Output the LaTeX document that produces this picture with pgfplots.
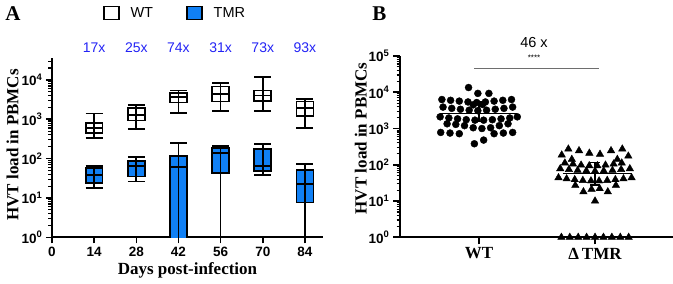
\documentclass[border=0pt]{standalone}
\usepackage{fontspec}
\setmainfont{Liberation Serif}
\newfontfamily\arial{Liberation Sans}
\usepackage{pgfplots}
\pgfplotsset{compat=1.18}

\definecolor{tmrblue}{RGB}{16,128,245}
\definecolor{foldblue}{RGB}{35,35,245}
\definecolor{sigline}{RGB}{110,110,110}

\pgfplotsset{
  loadaxis/.style={
    scale only axis,
    axis x line*=bottom, axis y line*=left,
    axis line style={line width=2.2pt,-},
    tick align=outside,
    major tick length=6pt, minor tick length=3.5pt,
    every major tick/.append style={black,line width=1.6pt},
    every minor tick/.append style={black,line width=1.1pt},
    yticklabel style={font=\arial\bfseries\fontsize{13.5}{15}\selectfont},
    xticklabel style={font=\arial\bfseries\fontsize{13.5}{15}\selectfont},
    label style={font=\bfseries\fontsize{17}{19}\selectfont},
  },
}

% one box: centre, left, right, lower whisker, lower quartile, median,
% upper quartile, upper whisker, fill colour
\newcommand{\boxset}[9]{%
  \addplot[draw=black, fill=#9, line width=1.7pt, forget plot]
    coordinates {(#2,#5) (#3,#5) (#3,#7) (#2,#7)} --cycle;
  \addplot[black, line width=1.7pt, forget plot] coordinates {(#1,#4) (#1,#8)};
  \addplot[black, line width=1.7pt, forget plot] coordinates {(#2,#6) (#3,#6)};
  \addplot[black, line width=1.7pt, forget plot] coordinates {(#2,#8) (#3,#8)};
  \addplot[black, line width=1.7pt, forget plot] coordinates {(#2,#4) (#3,#4)};
}
\newcommand{\seg}[5]{%
  \addplot[#1, forget plot] coordinates {(#2,#3) (#4,#5)};
}

\begin{document}
\begin{tikzpicture}
\path[use as bounding box] (0,0) rectangle (673pt,284pt);

\node[font=\bfseries\fontsize{21}{24}\selectfont] at (13pt,270.5pt) {A};
\node[font=\bfseries\fontsize{21}{24}\selectfont] at (379.5pt,270.5pt) {B};

% ---------------- Panel A: viral load over time ----------------
\begin{axis}[loadaxis, ymode=log, ymin=1,
  at={(52pt,46.7pt)}, anchor=south west,
  width=271pt, height=179.3pt,
  xmin=0, xmax=90, ymax=36000,
  xtick={0,14,28,42,56,70,84},
  xticklabels={0,14,28,42,56,70,84},
  xticklabel style={anchor=north, inner sep=0pt, yshift=-3.7pt},
  ytick={1,10,100,1000,10000},
  yticklabels={10\textsuperscript{0},10\textsuperscript{1},10\textsuperscript{2},10\textsuperscript{3},10\textsuperscript{4}},
  minor ytick={2,3,4,5,6,7,8,9,20,30,40,50,60,70,80,90,200,300,400,500,600,700,800,900,2000,3000,4000,5000,6000,7000,8000,9000,20000,30000},
  xlabel={Days post-infection},
  ylabel={HVT load in PBMCs},
  xlabel style={at={(axis description cs:0.5,-0.2047)}, anchor=base, inner sep=0pt},
  ylabel style={at={(axis description cs:-0.145,0.515)}, anchor=center},
  clip mode=individual,
  legend style={at={(axis description cs:0.454,1.251)}, anchor=center,
    draw=none, fill=none, font=\arial\fontsize{14.5}{16}\selectfont,
    /tikz/every odd column/.append style={column sep=9pt},
    /tikz/every even column/.append style={column sep=31pt}},
  legend columns=2,
  legend image code/.code={\draw[line width=1.6pt,#1] (0pt,-6.5pt) rectangle (15pt,6.5pt);},
]
\addlegendimage{draw=black,fill=white}
\addlegendentry{WT}
\addlegendimage{draw=black,fill=tmrblue}
\addlegendentry{TMR}

% WT boxes
\boxset{14}{11.2}{16.8}{340}{450}{610}{800}{1400}{white}
\boxset{28}{25.2}{30.8}{570}{930}{1300}{1900}{2330}{white}
\boxset{42}{39.2}{44.8}{1450}{2650}{3650}{4600}{5400}{white}
\boxset{56}{53.2}{58.8}{1600}{2800}{4300}{6800}{8200}{white}
\boxset{70}{67.2}{72.8}{1640}{2850}{4000}{5400}{12000}{white}
\boxset{84}{81.2}{86.8}{600}{1200}{1900}{2800}{3300}{white}

% TMR boxes
\boxset{14}{11.2}{16.8}{17.6}{24}{39}{58}{66}{tmrblue}
\boxset{28}{25.2}{30.8}{26}{35}{64}{88}{112}{tmrblue}
\boxset{42}{39.2}{44.8}{0.6}{0.6}{60}{115}{246}{tmrblue}
\boxset{56}{53.2}{58.8}{0.6}{43}{137}{183}{210}{tmrblue}
\boxset{70}{67.2}{72.8}{38}{49}{64}{174}{236}{tmrblue}
\boxset{84}{81.2}{86.8}{0.6}{7.6}{23}{51}{72}{tmrblue}

% fold differences
\node[text=foldblue, font=\arial\fontsize{14}{16}\selectfont] at (axis cs:14,65600) {17x};
\node[text=foldblue, font=\arial\fontsize{14}{16}\selectfont] at (axis cs:28,65600) {25x};
\node[text=foldblue, font=\arial\fontsize{14}{16}\selectfont] at (axis cs:42,65600) {74x};
\node[text=foldblue, font=\arial\fontsize{14}{16}\selectfont] at (axis cs:56,65600) {31x};
\node[text=foldblue, font=\arial\fontsize{14}{16}\selectfont] at (axis cs:70,65600) {73x};
\node[text=foldblue, font=\arial\fontsize{14}{16}\selectfont] at (axis cs:84,65600) {93x};
\end{axis}

% ---------------- Panel B: individual loads ----------------
\begin{axis}[loadaxis, ymode=log, ymin=1,
  at={(400pt,46.7pt)}, anchor=south west,
  width=273pt, height=181.3pt,
  xmin=0.319, xmax=2.672, ymax=100000,
  major tick length=7pt,
  xtick={1,2},
  xticklabels={WT,Δ\,TMR},
  xticklabel style={font=\bfseries\fontsize{17}{19}\selectfont},
  ytick={1,10,100,1000,10000,100000},
  yticklabels={10\textsuperscript{0},10\textsuperscript{1},10\textsuperscript{2},10\textsuperscript{3},10\textsuperscript{4},10\textsuperscript{5}},
  minor ytick={2,3,4,5,6,7,8,9,20,30,40,50,60,70,80,90,200,300,400,500,600,700,800,900,2000,3000,4000,5000,6000,7000,8000,9000,20000,30000,40000,50000,60000,70000,80000,90000},
  ylabel={HVT load in PBMCs},
  ylabel style={at={(axis description cs:-0.143,0.545)}, anchor=center},
  clip=false,
]
% WT group
\addplot[only marks, mark=*, mark size=3.5pt, black] coordinates {
  (0.91,13500)
  (0.99,9300) (1.085,9300)
  (0.68,6300) (0.755,6000) (0.83,5700) (0.905,5400) (0.98,5200)
  (1.055,5400) (1.13,5700) (1.205,6000) (1.28,6300)
  (0.95,4500) (1.03,4600)
  (0.69,3900) (0.765,3600) (0.84,3400) (0.915,3200) (0.99,3100)
  (1.065,3200) (1.14,3400) (1.215,3600) (1.29,3900)
  (0.665,2100) (0.74,1950) (0.815,1850) (0.89,1750) (0.965,1700)
  (1.04,1700) (1.115,1750) (1.19,1850) (1.265,1950) (1.33,2100)
  (0.725,1350) (0.80,1300) (0.875,1200) (0.95,1050) (1.025,1000)
  (1.10,1050) (1.175,1200) (1.25,1350)
  (0.67,780) (0.75,750) (0.83,720) (1.13,720) (1.21,750) (1.29,780)
  (0.96,380) (1.04,480)
};
% TMR-deleted group
\addplot[only marks, mark=triangle*, mark size=4.3pt, black] coordinates {
  (1.77,272) (1.862,245) (1.951,209) (2.043,195) (2.138,245) (2.235,272)
  (1.713,186) (1.80,141) (2.192,141) (2.287,174)
  (1.74,112) (1.81,105) (1.88,98) (1.95,94) (2.02,94) (2.09,98) (2.16,105) (2.23,112)
  (1.70,78) (1.775,74) (1.85,70) (1.925,68) (2.0,67) (2.075,68) (2.15,70) (2.225,74) (2.30,78)
  (1.685,44) (1.755,41) (1.825,39) (1.895,37) (1.965,36) (2.035,36) (2.105,37) (2.175,39) (2.245,41) (2.315,44)
  (1.83,27) (1.90,18) (1.97,21) (2.04,22) (2.11,18) (2.18,27)
  (2.0,10)
  (1.71,1) (1.7825,1) (1.855,1) (1.9275,1) (2.0,1) (2.0725,1) (2.145,1) (2.2175,1) (2.29,1)
};
% group centre lines and spreads
\seg{black, line width=1.3pt}{0.664}{2650}{1.328}{2650}
\seg{black, line width=1.3pt}{1}{1550}{1}{5500}
\seg{black, line width=1.3pt}{0.96}{1550}{1.04}{1550}
\seg{black, line width=1.3pt}{0.96}{5500}{1.04}{5500}
\seg{black, line width=1.3pt}{1.72}{58}{2.32}{58}
\seg{black, line width=1.3pt}{2.0}{27.5}{2.0}{115}
\seg{black, line width=1.3pt}{1.96}{27.5}{2.04}{27.5}
\seg{black, line width=1.3pt}{1.96}{115}{2.04}{115}
% comparison bar
\seg{sigline, line width=1.3pt}{0.96}{45700}{2.03}{45700}
\node[font=\arial\fontsize{14.5}{16}\selectfont] at (axis cs:1.474,230000) {46 x};
\node[font=\arial\fontsize{8}{9}\selectfont] at (axis cs:1.474,90000) {****};
\end{axis}
\end{tikzpicture}
\end{document}
